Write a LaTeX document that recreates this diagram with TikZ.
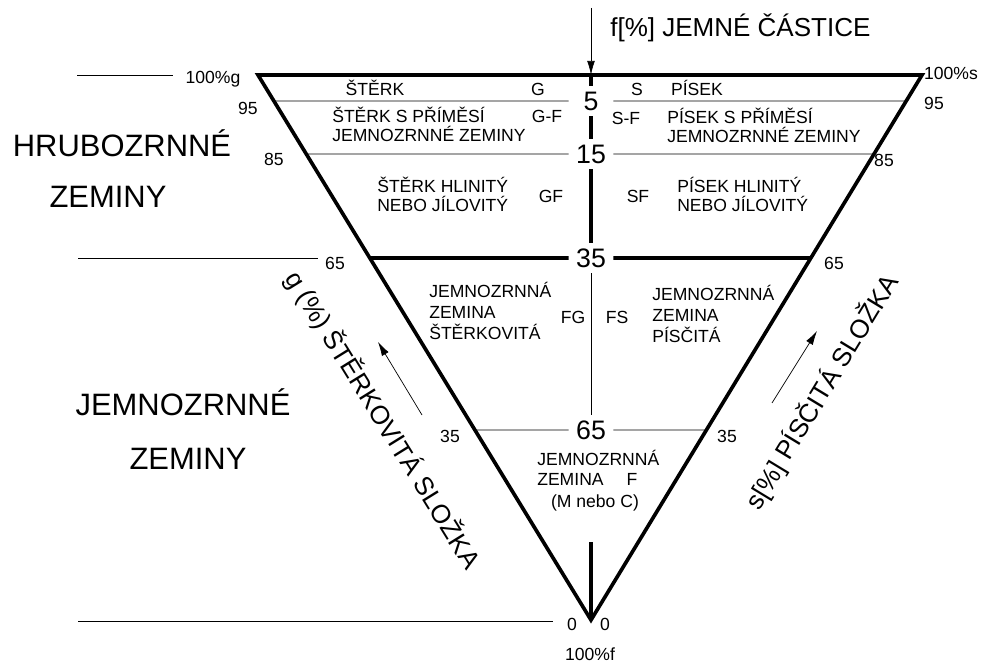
\documentclass[tikz,border=0pt]{standalone}
\usepackage{fontspec}
\setmainfont{Liberation Sans}
\usetikzlibrary{arrows.meta}

\tikzset{
  edge/.style={line width=2.6pt},
  fine/.style={line width=0.5pt},
  num/.style={font=\fontsize{19}{20}\selectfont, inner sep=0pt, minimum width=1.1cm, minimum height=0.75cm},
  lbl/.style={font=\fontsize{12.5}{14.2}\selectfont, inner sep=0pt, align=left},
  tick/.style={font=\fontsize{12.5}{14}\selectfont, inner sep=0pt, anchor=base},
  big/.style={font=\fontsize{22}{24}\selectfont, inner sep=0pt, anchor=base},
  axis/.style={font=\fontsize{18.5}{20}\selectfont, inner sep=0pt},
  head/.style={-{Latex[length=10pt,width=5.5pt]}},
}

\begin{document}
\begin{tikzpicture}[x=0.025cm,y=-0.025cm]
        \useasboundingbox (0,0) rectangle (982,663);

        % triangle
        \coordinate (tl) at (258,75);
        \coordinate (tr) at (922,75);
        \coordinate (bot) at (591,620);
        \coordinate (top) at (591,75);
        \draw[edge, line join=miter] (tl) -- (tr) -- (bot) -- cycle;

        % f axis
        \node[num] (n5) at (591,101) {5};
        \node[num] (n15) at (591,154) {15};
        \node[num] (n35) at (591,258) {35};
        \node[num] (n65) at (591,430) {65};
        \coordinate (ftail) at (591,8);
        \coordinate (fstub) at (591,542);
        \draw[fine, head] (ftail) -- (top);
        \draw[edge] (top) -- (n5.north);
        \draw[edge] (n5.south) -- (n15.north);
        \draw[edge] (n15.south) -- (n35.north);
        \draw[fine] (n35.south) -- (n65.north);
        \draw[edge] (fstub) -- (bot);
        \node[axis, anchor=base west] (fname) at (610,37) {f[\%] JEMNÉ ČÁSTICE};

        % class boundaries
        \draw[fine] (intersection of tl--bot and n5.west--n5.east) -- (n5.west);
        \draw[fine] (n5.east) -- (intersection of tr--bot and n5.west--n5.east);
        \draw[fine] (intersection of tl--bot and n15.west--n15.east) -- (n15.west);
        \draw[fine] (n15.east) -- (intersection of tr--bot and n15.west--n15.east);
        \draw[edge] (intersection of tl--bot and n35.west--n35.east) -- (n35.west);
        \draw[edge] (n35.east) -- (intersection of tr--bot and n35.west--n35.east);
        \draw[fine] (intersection of tl--bot and n65.west--n65.east) -- (n65.west);
        \draw[fine] (n65.east) -- (intersection of tr--bot and n65.west--n65.east);

        % leaders on the left
        \coordinate (la) at (77,75);
        \coordinate (lb) at (173,75);
        \coordinate (lc) at (78,258);
        \coordinate (ld) at (318,258);
        \coordinate (le) at (78,621);
        \coordinate (lf) at (553,621);
        \draw[fine] (la) -- (lb);
        \draw[fine] (lc) -- (ld);
        \draw[fine] (le) -- (lf);

        % scale values
        \node[tick] (g100) at (213,84) {100\%g};
        \node[tick] (g95) at (248,115) {95};
        \node[tick] (g85) at (274,166) {85};
        \node[tick] (g65) at (335,270) {65};
        \node[tick] (g35) at (450,442) {35};
        \node[tick] (g0) at (572,630) {0};
        \node[tick] (s0) at (605,630) {0};
        \node[tick] (f100) at (590,660) {100\%f};
        \node[tick] (s100) at (951,80) {100\%s};
        \node[tick] (s95) at (934,110) {95};
        \node[tick] (s85) at (884,167) {85};
        \node[tick] (s65) at (834,270) {65};
        \node[tick] (s35) at (727,442) {35};

        % soil groups
        \node[big] (hz1) at (122,157) {HRUBOZRNNÉ};
        \node[big] (hz2) at (108,208) {ZEMINY};
        \node[big] (jz1) at (183,415) {JEMNOZRNNÉ};
        \node[big] (jz2) at (188,469) {ZEMINY};

        % side axes
        \node[axis, rotate=-58.2] (gname) at (383,420) {g (\%) ŠTĚRKOVITÁ SLOŽKA};
        \node[axis, rotate=58.7] (sname) at (822,392) {s[\%] PÍSČITÁ SLOŽKA};
        \coordinate (ga) at (422,415);
        \coordinate (gb) at (378,342);
        \coordinate (sa) at (772,403);
        \coordinate (sb) at (817,331);
        \draw[fine, head] (ga) -- (gb);
        \draw[fine, head] (sa) -- (sb);

        % fields (base = last line)
        \node[lbl, anchor=base] (g) at (375,96) {ŠTĚRK};
        \node[lbl, anchor=base] (gsym) at (538,96) {G};
        \node[lbl, anchor=base] (ssym) at (637,96) {S};
        \node[lbl, anchor=base] (s) at (697,96) {PÍSEK};
        \node[lbl, anchor=base west] (gf1) at (332,142) {ŠTĚRK S PŘÍMĚSÍ\\JEMNOZRNNÉ ZEMINY};
        \node[lbl, anchor=base] (gf1sym) at (547,123) {G-F};
        \node[lbl, anchor=base] (sf1sym) at (626,125) {S-F};
        \node[lbl, anchor=base west] (sf1) at (667,143) {PÍSEK S PŘÍMĚSÍ\\JEMNOZRNNÉ ZEMINY};
        \node[lbl, anchor=base west] (gf2) at (377,212) {ŠTĚRK HLINITÝ\\NEBO JÍLOVITÝ};
        \node[lbl, anchor=base] (gf2sym) at (551,203) {GF};
        \node[lbl, anchor=base] (sf2sym) at (638,203) {SF};
        \node[lbl, anchor=base west] (sf2) at (677,212) {PÍSEK HLINITÝ\\NEBO JÍLOVITÝ};
        \node[lbl, anchor=base west, font=\fontsize{12.5}{15}\selectfont] (fg) at (429,340) {JEMNOZRNNÁ\\ZEMINA\\ŠTĚRKOVITÁ};
        \node[lbl, anchor=base] (fgsym) at (573,323) {FG};
        \node[lbl, anchor=base] (fssym) at (617,323) {FS};
        \node[lbl, anchor=base west, font=\fontsize{12.5}{15}\selectfont] (fs) at (652,343) {JEMNOZRNNÁ\\ZEMINA\\PÍSČITÁ};
        \node[lbl, anchor=base west] (f) at (537,485) {JEMNOZRNNÁ\\ZEMINA};
        \node[lbl, anchor=base] (fsym) at (632,485) {F};
        \node[lbl, anchor=base] (fmc) at (595,507) {(M nebo C)};
\end{tikzpicture}
\end{document}
